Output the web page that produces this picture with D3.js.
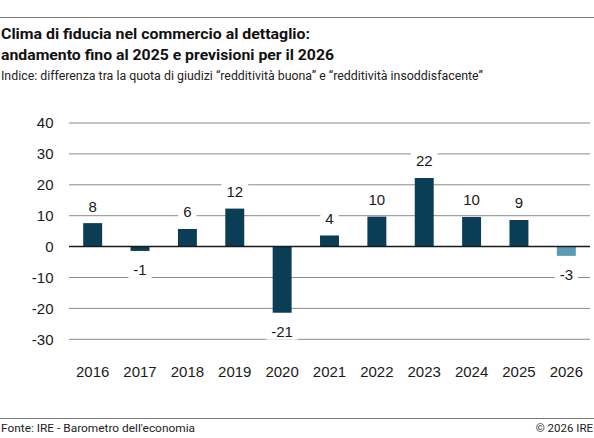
<!DOCTYPE html>
<html>
<head>
<meta charset="utf-8">
<script src="https://cdn.jsdelivr.net/npm/d3@7"></script>
<style>
  html, body { margin: 0; padding: 0; background: #fff; }
  svg { display: block; }
  .title { font-family: "Liberation Sans Narrow", Roboto, sans-serif; font-weight: 700; fill: #111; }
  .subtitle, .footer { font-family: "Liberation Sans Narrow", Roboto, sans-serif; fill: #222; }
  .tick-label, .value-label { font-family: "Liberation Sans", Arial, sans-serif; fill: #1a1a1a; }
</style>
</head>
<body>
<div id="chart"></div>
<script>
// Clima di fiducia nel commercio al dettaglio — index per anno, 2026 = previsione
const years    = ['2016', '2017', '2018', '2019', '2020', '2021', '2022', '2023', '2024', '2025', '2026'];
const values   = [7.6, -1.4, 5.7, 12.3, -21.4, 3.6, 9.7, 22.2, 9.6, 8.6, -3.0];
const forecast = ['2026'];
const yTicks   = [40, 30, 20, 10, 0, -10, -20, -30];

const W = 594, H = 438;
const colors = { bar: '#0b3d56', forecast: '#5b9ab5', grid: '#8a8a8a', zero: '#1a1a1a', rule: '#7a7a7a' };

const svg = d3.select('#chart').append('svg')
  .attr('width', W).attr('height', H);

// header
svg.append('line').attr('x1', 0).attr('x2', W).attr('y1', 17.5).attr('y2', 17.5)
  .attr('stroke', colors.rule).attr('stroke-width', 1.2);

// the reference uses a narrow face; stretch/squeeze to its measured widths
const fitText = (sel, target) => {
  const len = sel.node().getComputedTextLength();
  if (Math.abs(len - target) > 3) sel.attr('textLength', target).attr('lengthAdjust', 'spacingAndGlyphs');
};

fitText(svg.append('text').attr('class', 'title').attr('x', 1).attr('y', 39)
  .style('font-size', '15px').text('Clima di fiducia nel commercio al dettaglio:'), 309);
fitText(svg.append('text').attr('class', 'title').attr('x', 1).attr('y', 60)
  .style('font-size', '15px').text('andamento fino al 2025 e previsioni per il 2026'), 333);
fitText(svg.append('text').attr('class', 'subtitle').attr('x', 1).attr('y', 80)
  .style('font-size', '12px')
  .text('Indice: differenza tra la quota di giudizi “redditività buona” e “redditività insoddisfacente”'), 482);

// plot
const x = d3.scaleBand().domain(years).range([69, 590]).paddingInner(0.6).paddingOuter(0.3);
const y = d3.scaleLinear().domain([-30, 40]).range([339.3, 123]);

svg.append('g').selectAll('line').data(yTicks.filter(d => d !== 0)).join('line')
  .attr('x1', 69).attr('x2', 590)
  .attr('y1', d => y(d)).attr('y2', d => y(d))
  .attr('stroke', colors.grid).attr('stroke-width', 1);

svg.append('g').selectAll('text').data(yTicks).join('text')
  .attr('class', 'tick-label')
  .attr('x', 53.5).attr('y', d => y(d)).attr('dy', '0.36em')
  .attr('text-anchor', 'end').style('font-size', '15px')
  .text(d => d);

svg.append('g').selectAll('rect').data(years).join('rect')
  .attr('x', d => x(d))
  .attr('width', x.bandwidth())
  .attr('y', (d, i) => y(Math.max(0, values[i])))
  .attr('height', (d, i) => Math.abs(y(values[i]) - y(0)))
  .attr('fill', d => forecast.includes(d) ? colors.forecast : colors.bar);

svg.append('line').attr('x1', 69).attr('x2', 590).attr('y1', y(0)).attr('y2', y(0))
  .attr('stroke', colors.zero).attr('stroke-width', 1.5);

// value labels, with a white box that cuts the gridline behind them
const gLabels = svg.append('g');
years.forEach((d, i) => {
  const v = values[i];
  const cy = v >= 0 ? y(v) - 17 : y(v) + 19;
  const g = gLabels.append('g');
  const bg = g.append('rect').attr('fill', '#fff');
  const t = g.append('text').attr('class', 'value-label')
    .attr('x', x(d) + x.bandwidth() / 2).attr('y', cy).attr('dy', '0.36em')
    .attr('text-anchor', 'middle').style('font-size', '15px')
    .text(Math.round(v));
  const b = t.node().getBBox();
  bg.attr('x', b.x - 5).attr('y', cy - 8).attr('width', b.width + 10).attr('height', 16);
});

svg.append('g').selectAll('text').data(years).join('text')
  .attr('class', 'tick-label')
  .attr('x', d => x(d) + x.bandwidth() / 2).attr('y', 372)
  .attr('dy', '0.36em').attr('text-anchor', 'middle').style('font-size', '15px')
  .text(d => d);

// footer
svg.append('line').attr('x1', 0).attr('x2', W).attr('y1', 418.5).attr('y2', 418.5)
  .attr('stroke', colors.rule).attr('stroke-width', 1.2);
fitText(svg.append('text').attr('class', 'footer').attr('x', 1).attr('y', 431.5)
  .style('font-size', '11.5px').text('Fonte: IRE - Barometro dell\'economia'), 194);
svg.append('text').attr('class', 'footer').attr('x', 593).attr('y', 431.5)
  .attr('text-anchor', 'end').style('font-size', '11.5px').text('© 2026 IRE');
</script>
</body>
</html>
